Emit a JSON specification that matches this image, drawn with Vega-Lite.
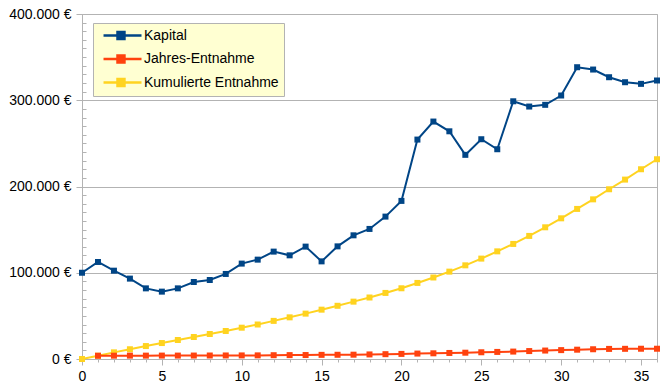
{
  "$schema": "https://vega.github.io/schema/vega-lite/v6.json",
  "width": 575,
  "height": 345,
  "autosize": "none",
  "padding": {"left": 82, "top": 14, "right": 7, "bottom": 30},
  "background": "white",
  "config": {
    "view": {"stroke": "#b3b3b3", "strokeWidth": 1},
    "font": "Liberation Sans"
  },
  "data": {
    "values": [
      {"jahr": 0, "serie": "Kapital", "wert": 100000},
      {"jahr": 1, "serie": "Kapital", "wert": 112500},
      {"jahr": 2, "serie": "Kapital", "wert": 102400},
      {"jahr": 3, "serie": "Kapital", "wert": 93200},
      {"jahr": 4, "serie": "Kapital", "wert": 81900},
      {"jahr": 5, "serie": "Kapital", "wert": 78100},
      {"jahr": 6, "serie": "Kapital", "wert": 81900},
      {"jahr": 7, "serie": "Kapital", "wert": 89300},
      {"jahr": 8, "serie": "Kapital", "wert": 91600},
      {"jahr": 9, "serie": "Kapital", "wert": 98600},
      {"jahr": 10, "serie": "Kapital", "wert": 110600},
      {"jahr": 11, "serie": "Kapital", "wert": 115200},
      {"jahr": 12, "serie": "Kapital", "wert": 124500},
      {"jahr": 13, "serie": "Kapital", "wert": 120200},
      {"jahr": 14, "serie": "Kapital", "wert": 130300},
      {"jahr": 15, "serie": "Kapital", "wert": 113200},
      {"jahr": 16, "serie": "Kapital", "wert": 130600},
      {"jahr": 17, "serie": "Kapital", "wert": 143400},
      {"jahr": 18, "serie": "Kapital", "wert": 150800},
      {"jahr": 19, "serie": "Kapital", "wert": 165100},
      {"jahr": 20, "serie": "Kapital", "wert": 183300},
      {"jahr": 21, "serie": "Kapital", "wert": 254400},
      {"jahr": 22, "serie": "Kapital", "wert": 275300},
      {"jahr": 23, "serie": "Kapital", "wert": 264000},
      {"jahr": 24, "serie": "Kapital", "wert": 236700},
      {"jahr": 25, "serie": "Kapital", "wert": 254800},
      {"jahr": 26, "serie": "Kapital", "wert": 243200},
      {"jahr": 27, "serie": "Kapital", "wert": 298800},
      {"jahr": 28, "serie": "Kapital", "wert": 292700},
      {"jahr": 29, "serie": "Kapital", "wert": 294700},
      {"jahr": 30, "serie": "Kapital", "wert": 305500},
      {"jahr": 31, "serie": "Kapital", "wert": 338300},
      {"jahr": 32, "serie": "Kapital", "wert": 335600},
      {"jahr": 33, "serie": "Kapital", "wert": 326700},
      {"jahr": 34, "serie": "Kapital", "wert": 320900},
      {"jahr": 35, "serie": "Kapital", "wert": 319000},
      {"jahr": 36, "serie": "Kapital", "wert": 322900},
      {"jahr": 0, "serie": "Kumulierte Entnahme", "wert": 0},
      {"jahr": 1, "serie": "Kumulierte Entnahme", "wert": 3800},
      {"jahr": 2, "serie": "Kumulierte Entnahme", "wert": 7700},
      {"jahr": 3, "serie": "Kumulierte Entnahme", "wert": 11300},
      {"jahr": 4, "serie": "Kumulierte Entnahme", "wert": 15000},
      {"jahr": 5, "serie": "Kumulierte Entnahme", "wert": 18500},
      {"jahr": 6, "serie": "Kumulierte Entnahme", "wert": 22000},
      {"jahr": 7, "serie": "Kumulierte Entnahme", "wert": 25500},
      {"jahr": 8, "serie": "Kumulierte Entnahme", "wert": 29000},
      {"jahr": 9, "serie": "Kumulierte Entnahme", "wert": 32500},
      {"jahr": 10, "serie": "Kumulierte Entnahme", "wert": 36300},
      {"jahr": 11, "serie": "Kumulierte Entnahme", "wert": 40000},
      {"jahr": 12, "serie": "Kumulierte Entnahme", "wert": 44200},
      {"jahr": 13, "serie": "Kumulierte Entnahme", "wert": 48300},
      {"jahr": 14, "serie": "Kumulierte Entnahme", "wert": 52600},
      {"jahr": 15, "serie": "Kumulierte Entnahme", "wert": 57200},
      {"jahr": 16, "serie": "Kumulierte Entnahme", "wert": 61700},
      {"jahr": 17, "serie": "Kumulierte Entnahme", "wert": 66500},
      {"jahr": 18, "serie": "Kumulierte Entnahme", "wert": 71300},
      {"jahr": 19, "serie": "Kumulierte Entnahme", "wert": 76600},
      {"jahr": 20, "serie": "Kumulierte Entnahme", "wert": 82000},
      {"jahr": 21, "serie": "Kumulierte Entnahme", "wert": 88200},
      {"jahr": 22, "serie": "Kumulierte Entnahme", "wert": 94500},
      {"jahr": 23, "serie": "Kumulierte Entnahme", "wert": 101300},
      {"jahr": 24, "serie": "Kumulierte Entnahme", "wert": 108600},
      {"jahr": 25, "serie": "Kumulierte Entnahme", "wert": 116400},
      {"jahr": 26, "serie": "Kumulierte Entnahme", "wert": 124800},
      {"jahr": 27, "serie": "Kumulierte Entnahme", "wert": 133400},
      {"jahr": 28, "serie": "Kumulierte Entnahme", "wert": 142700},
      {"jahr": 29, "serie": "Kumulierte Entnahme", "wert": 152700},
      {"jahr": 30, "serie": "Kumulierte Entnahme", "wert": 163100},
      {"jahr": 31, "serie": "Kumulierte Entnahme", "wert": 174000},
      {"jahr": 32, "serie": "Kumulierte Entnahme", "wert": 185100},
      {"jahr": 33, "serie": "Kumulierte Entnahme", "wert": 196800},
      {"jahr": 34, "serie": "Kumulierte Entnahme", "wert": 208000},
      {"jahr": 35, "serie": "Kumulierte Entnahme", "wert": 220000},
      {"jahr": 36, "serie": "Kumulierte Entnahme", "wert": 231600},
      {"jahr": 1, "serie": "Jahres-Entnahme", "wert": 3800},
      {"jahr": 2, "serie": "Jahres-Entnahme", "wert": 3850},
      {"jahr": 3, "serie": "Jahres-Entnahme", "wert": 3900},
      {"jahr": 4, "serie": "Jahres-Entnahme", "wert": 3900},
      {"jahr": 5, "serie": "Jahres-Entnahme", "wert": 3950},
      {"jahr": 6, "serie": "Jahres-Entnahme", "wert": 3950},
      {"jahr": 7, "serie": "Jahres-Entnahme", "wert": 4000},
      {"jahr": 8, "serie": "Jahres-Entnahme", "wert": 4050},
      {"jahr": 9, "serie": "Jahres-Entnahme", "wert": 4100},
      {"jahr": 10, "serie": "Jahres-Entnahme", "wert": 4150},
      {"jahr": 11, "serie": "Jahres-Entnahme", "wert": 4200},
      {"jahr": 12, "serie": "Jahres-Entnahme", "wert": 4400},
      {"jahr": 13, "serie": "Jahres-Entnahme", "wert": 4500},
      {"jahr": 14, "serie": "Jahres-Entnahme", "wert": 4600},
      {"jahr": 15, "serie": "Jahres-Entnahme", "wert": 4800},
      {"jahr": 16, "serie": "Jahres-Entnahme", "wert": 4900},
      {"jahr": 17, "serie": "Jahres-Entnahme", "wert": 5000},
      {"jahr": 18, "serie": "Jahres-Entnahme", "wert": 5300},
      {"jahr": 19, "serie": "Jahres-Entnahme", "wert": 5600},
      {"jahr": 20, "serie": "Jahres-Entnahme", "wert": 5900},
      {"jahr": 21, "serie": "Jahres-Entnahme", "wert": 6300},
      {"jahr": 22, "serie": "Jahres-Entnahme", "wert": 6600},
      {"jahr": 23, "serie": "Jahres-Entnahme", "wert": 7000},
      {"jahr": 24, "serie": "Jahres-Entnahme", "wert": 7300},
      {"jahr": 25, "serie": "Jahres-Entnahme", "wert": 7800},
      {"jahr": 26, "serie": "Jahres-Entnahme", "wert": 8200},
      {"jahr": 27, "serie": "Jahres-Entnahme", "wert": 8600},
      {"jahr": 28, "serie": "Jahres-Entnahme", "wert": 9200},
      {"jahr": 29, "serie": "Jahres-Entnahme", "wert": 9800},
      {"jahr": 30, "serie": "Jahres-Entnahme", "wert": 10300},
      {"jahr": 31, "serie": "Jahres-Entnahme", "wert": 10800},
      {"jahr": 32, "serie": "Jahres-Entnahme", "wert": 11300},
      {"jahr": 33, "serie": "Jahres-Entnahme", "wert": 11700},
      {"jahr": 34, "serie": "Jahres-Entnahme", "wert": 11800},
      {"jahr": 35, "serie": "Jahres-Entnahme", "wert": 11900},
      {"jahr": 36, "serie": "Jahres-Entnahme", "wert": 11900}
    ]
  },
  "encoding": {
    "x": {
      "field": "jahr",
      "type": "quantitative",
      "scale": {"domain": [0, 36], "nice": false, "zero": false},
      "axis": {
        "title": null,
        "grid": false,
        "values": [0,1,2,3,4,5,6,7,8,9,10,11,12,13,14,15,16,17,18,19,20,21,22,23,24,25,26,27,28,29,30,31,32,33,34,35,36],
        "labelExpr": "datum.value % 5 === 0 ? datum.label : ''",
        "labelFont": "Liberation Sans",
        "labelFontSize": 14,
        "labelColor": "#000000",
        "labelPadding": 4,
        "labelFlush": false,
        "labelOverlap": false,
        "domainColor": "#b3b3b3",
        "tickColor": "#b3b3b3",
        "tickSize": {"condition": {"test": "datum.value % 5 === 0", "value": 6}, "value": 3}
      }
    },
    "y": {
      "field": "wert",
      "type": "quantitative",
      "scale": {"domain": [0, 400000], "nice": false},
      "axis": {
        "title": null,
        "values": [0,10000,20000,30000,40000,50000,60000,70000,80000,90000,100000,110000,120000,130000,140000,150000,160000,170000,180000,190000,200000,210000,220000,230000,240000,250000,260000,270000,280000,290000,300000,310000,320000,330000,340000,350000,360000,370000,380000,390000,400000],
        "labelExpr": "datum.value % 100000 === 0 ? replace(format(datum.value, ',d'), /,/g, '.') + ' €' : ''",
        "labelFont": "Liberation Sans",
        "labelFontSize": 14,
        "labelColor": "#000000",
        "labelPadding": 5,
        "labelOverlap": false,
        "labelFlush": false,
        "domainColor": "#b3b3b3",
        "tickColor": "#b3b3b3",
        "tickSize": {"condition": {"test": "datum.value % 100000 === 0", "value": 6}, "value": -4},
        "gridColor": "#b3b3b3",
        "gridOpacity": {"condition": {"test": "datum.value % 100000 === 0", "value": 1}, "value": 0}
      }
    },
    "color": {
      "field": "serie",
      "type": "nominal",
      "scale": {
        "domain": ["Kapital", "Jahres-Entnahme", "Kumulierte Entnahme"],
        "range": ["#004586", "#ff420e", "#ffd320"]
      },
      "legend": {
        "title": null,
        "orient": "none",
        "legendX": 11,
        "legendY": 9,
        "fillColor": "#ffffd2",
        "strokeColor": "#b3b3b3",
        "padding": 5,
        "rowPadding": 6.5,
        "labelFont": "Liberation Sans",
        "labelFontSize": 14,
        "labelColor": "#000000",
        "labelOffset": 31,
        "symbolType": "M-0.33,0H6M2.0,-0.58H3.16V0.58H2.0Z",
        "symbolSize": 144,
        "symbolStrokeWidth": 2.5,
        "symbolOpacity": 1,
        "cornerRadius": 0,
        "encode": {
          "symbols": {
            "update": {
              "fill": {"scale": "color", "field": "value"},
              "stroke": {"scale": "color", "field": "value"}
            }
          }
        }
      }
    }
  },
  "layer": [
    {"mark": {"type": "line", "strokeWidth": 2}},
    {"mark": {"type": "point", "shape": "square", "filled": true, "size": 36, "opacity": 1}}
  ]
}
